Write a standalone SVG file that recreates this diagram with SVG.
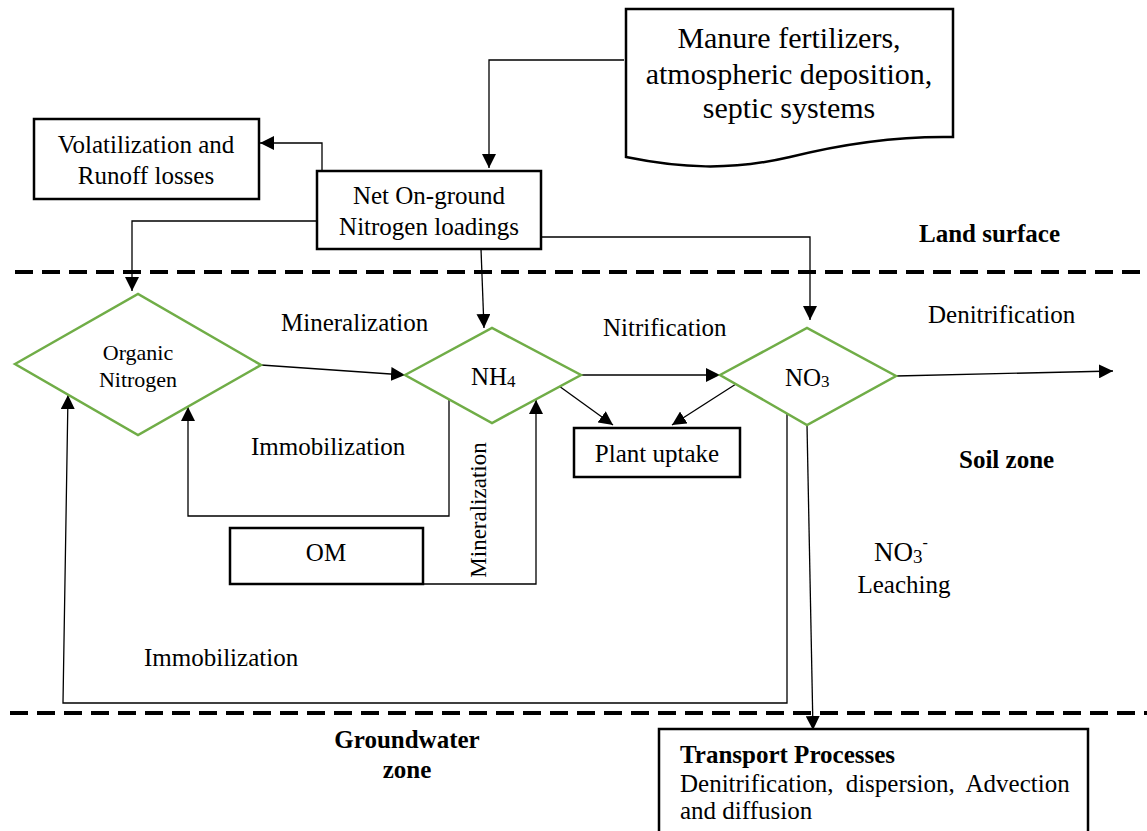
<svg xmlns="http://www.w3.org/2000/svg" width="1147" height="831" viewBox="0 0 1147 831">
<defs>
<marker id="arr" markerUnits="userSpaceOnUse" markerWidth="14" markerHeight="14" refX="14" refY="7" orient="auto">
<path d="M0,0 L14,7 L0,14 z" fill="#000"/>
</marker>
<style>
text{font-family:"Liberation Serif","Times New Roman",serif;fill:#000;font-size:25px}
.b{font-weight:bold}
.box{fill:#fff;stroke:#000;stroke-width:2.5}
.dia{fill:#fff;stroke:#70AD47;stroke-width:2.5}
.con path{fill:none;stroke:#000;stroke-width:1.3}
.arr{marker-end:url(#arr)}
.dash{stroke:#000;stroke-width:4;stroke-dasharray:18 9;fill:none}
.m{text-anchor:middle}
</style>
</defs>
<rect width="1147" height="831" fill="#fff"/>

<g id="zones">
<line class="dash" x1="15" y1="272" x2="1147" y2="272"/>
<line class="dash" x1="10" y1="713" x2="1147" y2="713"/>
<text class="b" x="919" y="242">Land surface</text>
<text class="b" x="959" y="468">Soil zone</text>
<text class="b m" x="407" y="748">Groundwater</text>
<text class="b m" x="407" y="778">zone</text>
</g>

<g class="con" id="connectors">
<path class="arr" d="M624,60 H489 V168"/>
<path class="arr" d="M322,171 V143 H260"/>
<path class="arr" d="M317,221 H132 V291"/>
<path class="arr" d="M481,249 L484,328"/>
<path class="arr" d="M541,237 H810 V320"/>
<path class="arr" d="M261,365 L405,375"/>
<path class="arr" d="M581,375 L720,375"/>
<path class="arr" d="M896,376 L1113,371"/>
<path class="arr" d="M559,386 L613,425"/>
<path class="arr" d="M736,384 L672,425"/>
<path class="arr" d="M449,400 V516 H188 V407"/>
<path class="arr" d="M388,584 H536 V400"/>
<path class="arr" d="M787,412 V703 H63 L68,395"/>
<path class="arr" d="M807,425 L813,730"/>
</g>

<g id="labels">
<text x="281" y="331">Mineralization</text>
<text x="603" y="336">Nitrification</text>
<text x="928" y="323">Denitrification</text>
<text x="251" y="455">Immobilization</text>
<text x="144" y="666">Immobilization</text>
<text class="m" transform="translate(486,510) rotate(-90)" style="font-size:23px">Mineralization</text>
<text x="874" y="561" style="font-size:27px">NO<tspan style="font-size:19px" dy="2">3</tspan><tspan style="font-size:16px" dy="-15">-</tspan></text>
<text class="m" x="904" y="593">Leaching</text>
</g>

<g id="manure">
<path class="box" d="M626,9 H953 V137 C900,136 850,142 790,157 C730,171 680,168 626,157 Z"/>
<text class="m" x="789" y="48" style="font-size:30px">Manure fertilizers,</text>
<text class="m" x="789" y="84" style="font-size:30px">atmospheric deposition,</text>
<text class="m" x="789" y="118" style="font-size:30px">septic systems</text>
</g>

<g id="volatilization">
<rect class="box" x="34" y="119" width="225" height="80"/>
<text class="m" x="146" y="153">Volatilization and</text>
<text class="m" x="146" y="184">Runoff losses</text>
</g>

<g id="net">
<rect class="box" x="317" y="171" width="224" height="78"/>
<text class="m" x="429" y="204">Net On-ground</text>
<text class="m" x="429" y="235">Nitrogen loadings</text>
</g>

<g id="organic">
<path class="dia" d="M15,364 L138,294 L261,365 L138,435 Z"/>
<text class="m" x="138" y="360" style="font-size:22px">Organic</text>
<text class="m" x="138" y="387" style="font-size:22px">Nitrogen</text>
</g>

<g id="nh4">
<path class="dia" d="M405,375 L492,328 L581,375 L492,423 Z"/>
<text x="471" y="385">NH<tspan style="font-size:17px" dy="2">4</tspan></text>
</g>

<g id="no3">
<path class="dia" d="M720,375 L807,328 L896,376 L807,425 Z"/>
<text x="785" y="386">NO<tspan style="font-size:17px" dy="1">3</tspan></text>
</g>

<g id="plant">
<rect class="box" x="574" y="428" width="166" height="49"/>
<text class="m" x="657" y="462">Plant uptake</text>
</g>

<g id="om">
<rect class="box" x="230" y="528" width="193" height="56"/>
<text class="m" x="326" y="561">OM</text>
</g>

<g id="transport">
<rect class="box" x="659" y="729" width="429" height="130"/>
<text class="b" x="680" y="763">Transport Processes</text>
<text x="680" y="792" style="word-spacing:6px">Denitrification, dispersion, Advection</text>
<text x="680" y="819">and diffusion</text>
</g>
</svg>
